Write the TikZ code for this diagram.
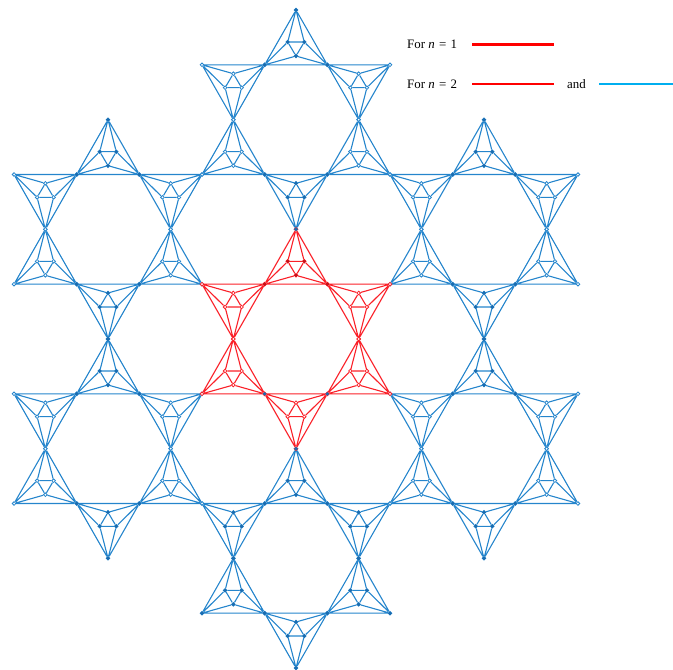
\documentclass[tikz,border=0pt]{standalone}
\usepackage{fontspec}
\setmainfont{Liberation Serif}
\definecolor{blueline}{HTML}{2585CC}
\definecolor{bluedark}{HTML}{1A6CB0}
\definecolor{redline}{HTML}{FA2028}
\definecolor{reddark}{HTML}{C81018}
\definecolor{legendblue}{HTML}{00AEEF}
\definecolor{legendred}{HTML}{FF0000}
\tikzset{
  dotnode/.style={circle,inner sep=0pt,minimum size=3.6bp,line width=.8bp,fill=white},
  bluefill/.style={circle,inner sep=0pt,minimum size=3.8bp,fill=bluedark},
  redfill/.style={circle,inner sep=0pt,minimum size=3.8bp,fill=reddark},
  edge/.style={line width=1.1bp},
  legend/.style={line width=2.2bp},
  lab/.style={inner sep=0pt,anchor=base west,font=\fontsize{12.9bp}{14bp}\selectfont}
}
\begin{document}
\begin{tikzpicture}[x=1bp,y=-1bp]
\useasboundingbox (0,0) rectangle (673,670);
\def\ux{31.33}\def\uy{54.83}
\foreach \sid/\ci/\cj/\col in {T/0/-4/blueline,B/0/4/blueline,UL/-6/-2/blueline,UR/6/-2/blueline,LL/-6/2/blueline,LR/6/2/blueline,R/0/0/redline}{
  \foreach \tid/\ti/\tj/\d in {1/0/-2/1,2/2/0/-1,3/2/0/1,4/0/2/-1,5/-2/0/1,6/-2/0/-1}{
    \pgfmathsetmacro\px{296+\ux*(\ci+\ti)}
    \pgfmathsetmacro\py{339+\uy*(\cj+\tj)}
    \pgfmathsetmacro\xl{\px-\ux}
    \pgfmathsetmacro\xr{\px+\ux}
    \pgfmathsetmacro\yb{\py+\d*\uy}
    \pgfmathsetmacro\xa{\px-8.25}
    \pgfmathsetmacro\xb{\px+8.25}
    \pgfmathsetmacro\yi{\py+\d*32}
    \pgfmathsetmacro\yc{\py+\d*46}
    \node[dotnode,draw=\col] (\sid-\tid-A) at (\px,\py) {};
    \node[dotnode,draw=\col] (\sid-\tid-L) at (\xl,\yb) {};
    \node[dotnode,draw=\col] (\sid-\tid-M) at (\xr,\yb) {};
    \node[dotnode,draw=\col] (\sid-\tid-a) at (\xa,\yi) {};
    \node[dotnode,draw=\col] (\sid-\tid-b) at (\xb,\yi) {};
    \node[dotnode,draw=\col] (\sid-\tid-c) at (\px,\yc) {};
    \draw[edge,draw=\col] (\sid-\tid-A)--(\sid-\tid-L) (\sid-\tid-A)--(\sid-\tid-M)
      (\sid-\tid-A)--(\sid-\tid-a) (\sid-\tid-A)--(\sid-\tid-b)
      (\sid-\tid-L)--(\sid-\tid-M)
      (\sid-\tid-L)--(\sid-\tid-a) (\sid-\tid-M)--(\sid-\tid-b)
      (\sid-\tid-L)--(\sid-\tid-c) (\sid-\tid-M)--(\sid-\tid-c)
      (\sid-\tid-a)--(\sid-\tid-b) (\sid-\tid-a)--(\sid-\tid-c) (\sid-\tid-b)--(\sid-\tid-c);
  }
}
% darker dots
\foreach \sid/\tid in {T/1,T/4,UL/1,UL/4,UR/1,UR/4,LL/1,LL/4,LR/1,LR/4,B/1,B/4}{
  \foreach \p in {A,L,M,a,b,c}{\node[bluefill] at (\sid-\tid-\p) {};}
}
\foreach \tid in {2,3,5,6}{
  \foreach \p in {A,a,b,c}{\node[bluefill] at (B-\tid-\p) {};}
}
\foreach \n in {B-5-L,B-3-M,B-5-M,B-3-L,R-5-M,R-3-L}{\node[bluefill] at (\n) {};}
\foreach \p in {L,M,a,b,c}{\node[redfill] at (R-1-\p) {};}
% legend
\node[lab] (t1) at (407,49) {For \textit{n} {\kern1pt}={\kern1pt} 1};
\node[lab] (t2) at (407,88.5) {For \textit{n} {\kern1pt}={\kern1pt} 2};
\node[lab] (t3) at (567,88.5) {and};
\coordinate (la) at (472,44.6); \coordinate (lb) at (554,44.6);
\coordinate (lc) at (472,84.2); \coordinate (ld) at (554,84.2);
\coordinate (le) at (599,84.2); \coordinate (lf) at (673,84.2);
\draw[legend,legendred] (la)--(lb);
\draw[legend,legendred] (lc)--(ld);
\draw[legend,legendblue] (le)--(lf);
\end{tikzpicture}
\end{document}
